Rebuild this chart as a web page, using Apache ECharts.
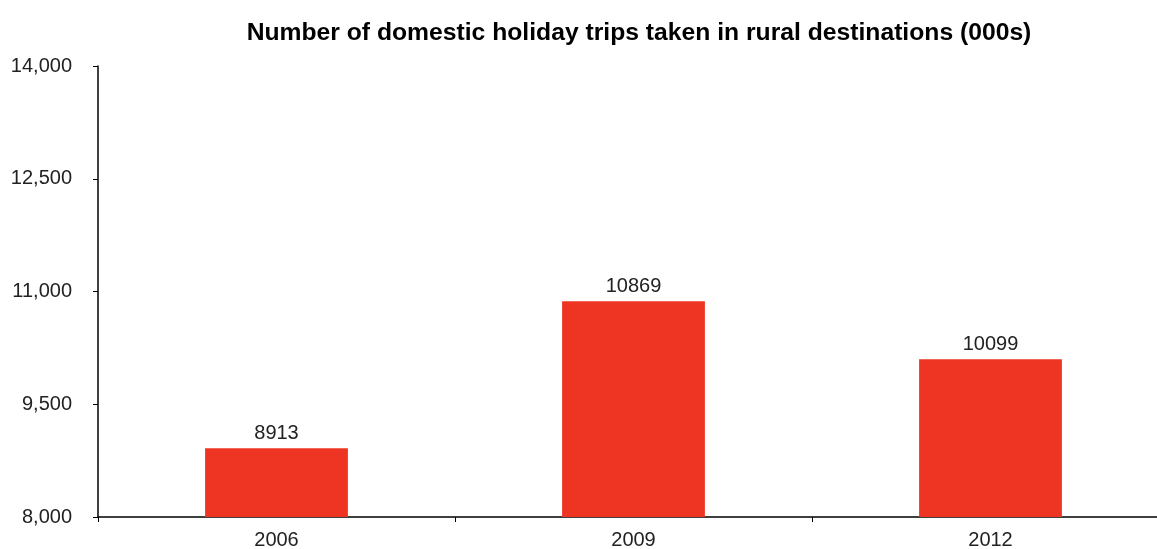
<!DOCTYPE html>
<html>
<head>
<meta charset="utf-8">
<script src="https://cdn.jsdelivr.net/npm/echarts@6/dist/echarts.min.js"></script>
<style>html,body{margin:0;padding:0;background:#fff;}#c{width:1157px;height:549px;}</style>
</head>
<body>
<div id="c"></div>
<script>
const categories = ['2006', '2009', '2012'];
const trips = [8913, 10869, 10099];
const yTicks = [8000, 9500, 11000, 12500, 14000];

const chart = echarts.init(document.getElementById('c'), null, {renderer: 'canvas'});
chart.setOption({
  animation: false,
  backgroundColor: '#fff',
  title: {
    text: 'Number of domestic holiday trips taken in rural destinations (000s)',
    left: 634, top: 16, textAlign: 'center',
    textStyle: {fontFamily: 'Liberation Sans', fontSize: 24.7, fontWeight: 'bold', color: '#000'}
  },
  grid: {left: 98, top: 66, bottom: 32, width: 1071, containLabel: false, outerBoundsMode: 'none'},
  xAxis: {
    type: 'category', data: categories,
    axisLine: {lineStyle: {color: '#000', width: 1.5}},
    axisTick: {show: true, length: 5, lineStyle: {color: '#000'}},
    axisLabel: {fontFamily: 'Liberation Sans', fontSize: 20, color: '#222', margin: 13}
  },
  yAxis: {
    type: 'value', min: yTicks[0], max: yTicks[yTicks.length - 1], interval: 1500,
    splitLine: {show: false},
    axisLine: {show: true, lineStyle: {color: '#000', width: 1.5}},
    axisTick: {show: true, length: 5, lineStyle: {color: '#000'}},
    axisLabel: {fontFamily: 'Liberation Sans', fontSize: 20, color: '#222', margin: 26,
      formatter: v => v.toLocaleString('en-US')}
  },
  series: [{
    type: 'bar', data: trips, barWidth: '40%',
    itemStyle: {color: '#EE3524'},
    label: {show: true, position: 'top', distance: 5, fontFamily: 'Liberation Sans', fontSize: 20, color: '#222'}
  }]
});
</script>
</body>
</html>
